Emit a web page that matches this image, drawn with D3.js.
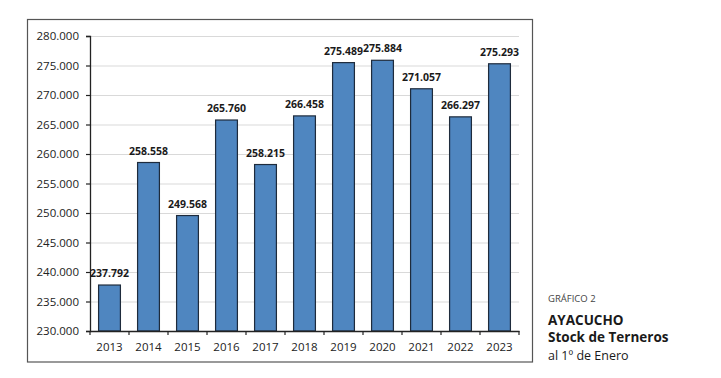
<!DOCTYPE html>
<html><head><meta charset="utf-8">
<script src="https://cdn.jsdelivr.net/npm/d3@7"></script>
<style>body{margin:0;background:#fff;} svg{display:block;}</style>
</head><body>
<svg id="c" width="721" height="378"></svg>
<script>
const years = ["2013","2014","2015","2016","2017","2018","2019","2020","2021","2022","2023"];
const stock = [237792,258558,249568,265760,258215,266458,275489,275884,271057,266297,275293];
const yTicks = [230000,235000,240000,245000,250000,255000,260000,265000,270000,275000,280000];
const titleLines = ["GRÁFICO 2","AYACUCHO","Stock de Terneros","al 1º de Enero"];

const svg = d3.select("#c");
const font = "'Open Sans', 'Noto Sans', sans-serif";
const fmt = v => d3.format(",")(v).replace(/,/g, ".");

// outer frame
svg.append("rect").attr("x",27.5).attr("y",19.5).attr("width",505).attr("height",342.5)
  .attr("fill","#fff").attr("stroke","#555").attr("stroke-width",1.2);

const m = {l:90, r:519, t:36, b:331};
const x = d3.scaleBand().domain(years).range([m.l, m.r]).paddingInner(0.44).paddingOuter(0.22);
const y = d3.scaleLinear().domain([230000,280000]).range([m.b, m.t]);

// gridlines
svg.append("g").selectAll("line").data(yTicks.slice(1)).join("line")
  .attr("x1",m.l).attr("x2",m.r).attr("y1",d=>y(d)+0.5).attr("y2",d=>y(d)+0.5)
  .attr("stroke","#d9d9d9").attr("stroke-width",1);

// y axis
const ya = svg.append("g").attr("transform",`translate(${m.l},0)`)
  .call(d3.axisLeft(y).tickValues(yTicks).tickFormat(fmt).tickSize(4).tickPadding(7));
ya.select(".domain").attr("stroke","#222").attr("stroke-width",1.3);
ya.selectAll(".tick line").attr("stroke","#222").attr("stroke-width",1.2);
ya.selectAll("text").attr("font-family",font).attr("font-size",11.5).attr("fill","#222");

// bars
svg.append("g").selectAll("rect").data(years).join("rect")
  .attr("x",(d)=>x(d)).attr("width",x.bandwidth())
  .attr("y",(d,i)=>y(stock[i])).attr("height",(d,i)=>m.b - y(stock[i]))
  .attr("fill","#4f86c0").attr("stroke","#1e2b3c").attr("stroke-width",1.2);

// x axis
const xa = svg.append("g").attr("transform",`translate(0,${m.b})`)
  .call(d3.axisBottom(x).tickSize(0).tickPadding(12));
xa.select(".domain").attr("stroke","#222").attr("stroke-width",1.3);
xa.selectAll("text").attr("font-family",font).attr("font-size",11.5).attr("fill","#222");
// ticks between categories
const bounds = d3.range(years.length+1).map(i => m.l + i*(m.r-m.l)/years.length);
svg.append("g").selectAll("line").data(bounds).join("line")
  .attr("x1",d=>d).attr("x2",d=>d).attr("y1",m.b).attr("y2",m.b+4)
  .attr("stroke","#222").attr("stroke-width",1.2);

// value labels
svg.append("g").selectAll("text").data(years).join("text")
  .attr("x",d=>x(d)+x.bandwidth()/2).attr("y",(d,i)=>y(stock[i])-8)
  .attr("text-anchor","middle").attr("font-family",font).attr("font-weight","bold")
  .attr("font-size",10.5).attr("fill","#1a1a1a").text((d,i)=>fmt(stock[i]));

// title block
const tx = 548;
svg.append("text").attr("x",tx).attr("y",302).attr("font-family",font).attr("font-size",9.5)
  .attr("fill","#444").text(titleLines[0]);
svg.append("text").attr("x",tx).attr("y",325).attr("font-family",font).attr("font-size",13.5)
  .attr("font-weight","bold").attr("fill","#1a1a1a").text(titleLines[1]);
svg.append("text").attr("x",tx).attr("y",342).attr("font-family",font).attr("font-size",13.5)
  .attr("font-weight","bold").attr("fill","#1a1a1a").text(titleLines[2]);
svg.append("text").attr("x",tx).attr("y",360).attr("font-family",font).attr("font-size",12.5)
  .attr("fill","#1a1a1a").text(titleLines[3]);
</script>
</body></html>
